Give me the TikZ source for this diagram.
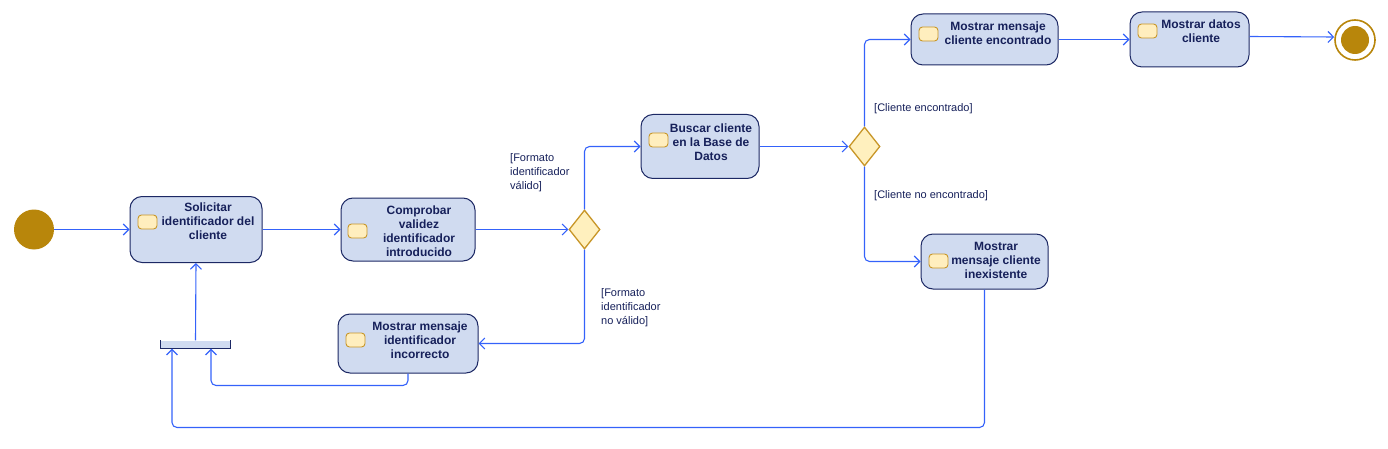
\documentclass[tikz,border=0pt]{standalone}
\usepackage{fontspec}
\setmainfont{Liberation Sans}
\usetikzlibrary{arrows.meta,shapes.geometric}
\definecolor{actfill}{RGB}{208,219,240}
\definecolor{actline}{RGB}{28,40,100}
\definecolor{txt}{RGB}{22,32,90}
\definecolor{flowc}{RGB}{52,98,250}
\definecolor{gold}{RGB}{184,134,11}
\definecolor{pinfill}{RGB}{255,238,190}
\definecolor{pinline}{RGB}{200,150,40}
\definecolor{decfill}{RGB}{255,240,190}
\tikzset{
  x=1pt,y=-1pt,
  act/.style={draw=actline, line width=1pt, fill=actfill, rounded corners=12pt, inner sep=0pt},
  pin/.style={draw=pinline, line width=0.9pt, fill=pinfill, rounded corners=3.5pt, minimum width=19pt, minimum height=14pt, inner sep=0pt},
  acttxt/.style={anchor=north, text=txt, font=\fontsize{12}{14}\selectfont\bfseries, align=center, inner sep=0pt},
  guard/.style={anchor=north west, text=txt, font=\fontsize{11}{14}\selectfont, align=left, inner sep=0pt},
  dec/.style={diamond, draw=pinline, line width=1.3pt, fill=decfill, minimum width=31pt, minimum height=39pt, inner sep=0pt},
  flow/.style={draw=flowc, line width=1.1pt, rounded corners=5pt, -{Straight Barb[length=5.5pt,width=11pt,line width=1.1pt]}},
}
\begin{document}
\begin{tikzpicture}
\useasboundingbox (0,0) rectangle (1388,449);
% initial / final
\node[circle, fill=gold, minimum size=40pt, inner sep=0pt] (init) at (34,229.5) {};
\node[circle, draw=gold, line width=1.6pt, fill=white, minimum size=40pt, inner sep=0pt] (final) at (1355,40) {};
\node[circle, fill=gold, minimum size=28pt, inner sep=0pt] (finalin) at (1355,40) {};
% activities
\node[act, minimum width=132pt, minimum height=66pt] (a1) at (196,229.5) {};
\node[pin] (p1) at (147.5,222) {};
\node[acttxt] (t1) at (208,203) {Solicitar\\identificador del\\cliente};

\node[act, minimum width=134pt, minimum height=63pt] (a2) at (408,229.5) {};
\node[pin] (p2) at (357.5,231) {};
\node[acttxt] (t2) at (419,206) {Comprobar\\validez\\identificador\\introducido};

\node[act, minimum width=118pt, minimum height=64pt] (a3) at (700,146.5) {};
\node[pin] (p3) at (658.5,140) {};
\node[acttxt] (t3) at (711,124) {Buscar cliente\\en la Base de\\Datos};

\node[act, minimum width=147pt, minimum height=51pt] (a4) at (984.5,39.5) {};
\node[pin] (p4) at (928.5,34) {};
\node[acttxt] (t4) at (998,22) {Mostrar mensaje\\cliente encontrado};

\node[act, minimum width=119pt, minimum height=55pt] (a5) at (1189.5,39.5) {};
\node[pin] (p5) at (1147.5,31) {};
\node[acttxt] (t5) at (1201,20) {Mostrar datos\\cliente};

\node[act, minimum width=127pt, minimum height=55pt] (a6) at (984.5,261.5) {};
\node[pin] (p6) at (938.5,261) {};
\node[acttxt] (t6) at (996,242) {Mostrar\\mensaje cliente\\inexistente};

\node[act, minimum width=140pt, minimum height=59pt] (a7) at (408,343.5) {};
\node[pin] (p7) at (355.5,340) {};
\node[acttxt] (t7) at (420,322) {Mostrar mensaje\\identificador\\incorrecto};

% decisions
\node[dec] (d1) at (584.5,229.5) {};
\node[dec] (d2) at (864.5,146.5) {};

% join bar (no dark top edge)
\node[fill=actfill, minimum width=69pt, minimum height=8pt, inner sep=0pt] (bar) at (195.5,344.5) {};
\draw[actline, line width=1pt] (bar.north west) -- (bar.south west) -- (bar.south east) -- (bar.north east);

% guards
\node[guard] (g1) at (510,153) {[Formato\\identificador\\válido]};
\node[guard] (g2) at (601,288) {[Formato\\identificador\\no válido]};
\node[guard] (g3) at (874,103) {[Cliente encontrado]};
\node[guard] (g4) at (874,190) {[Cliente no encontrado]};

% flows
\draw[flow] (init) -- (a1);
\draw[flow] (a1) -- (a2);
\draw[flow] (a2) -- (d1);
\draw[flow] (d1.north) |- (a3.west);
\draw[flow] (d1.south) |- (a7.east);
\draw[flow] (a3) -- (d2);
\draw[flow] (d2.north) |- (a4.west);
\draw[flow] (d2.south) |- (a6.west);
\draw[flow] (a4) -- (a5);
\draw[flow] ([yshift=3pt]a5.east) -- ([yshift=3pt]final.west);
\draw[flow] (a7.south) -- ++(0,12) -| ([xshift=15.5pt]bar.south);
\draw[flow] (a6.south) -- ++(0,138) -| ([xshift=-23.5pt]bar.south);
\draw[flow] (bar.north) -- (a1.south);
\end{tikzpicture}
\end{document}
